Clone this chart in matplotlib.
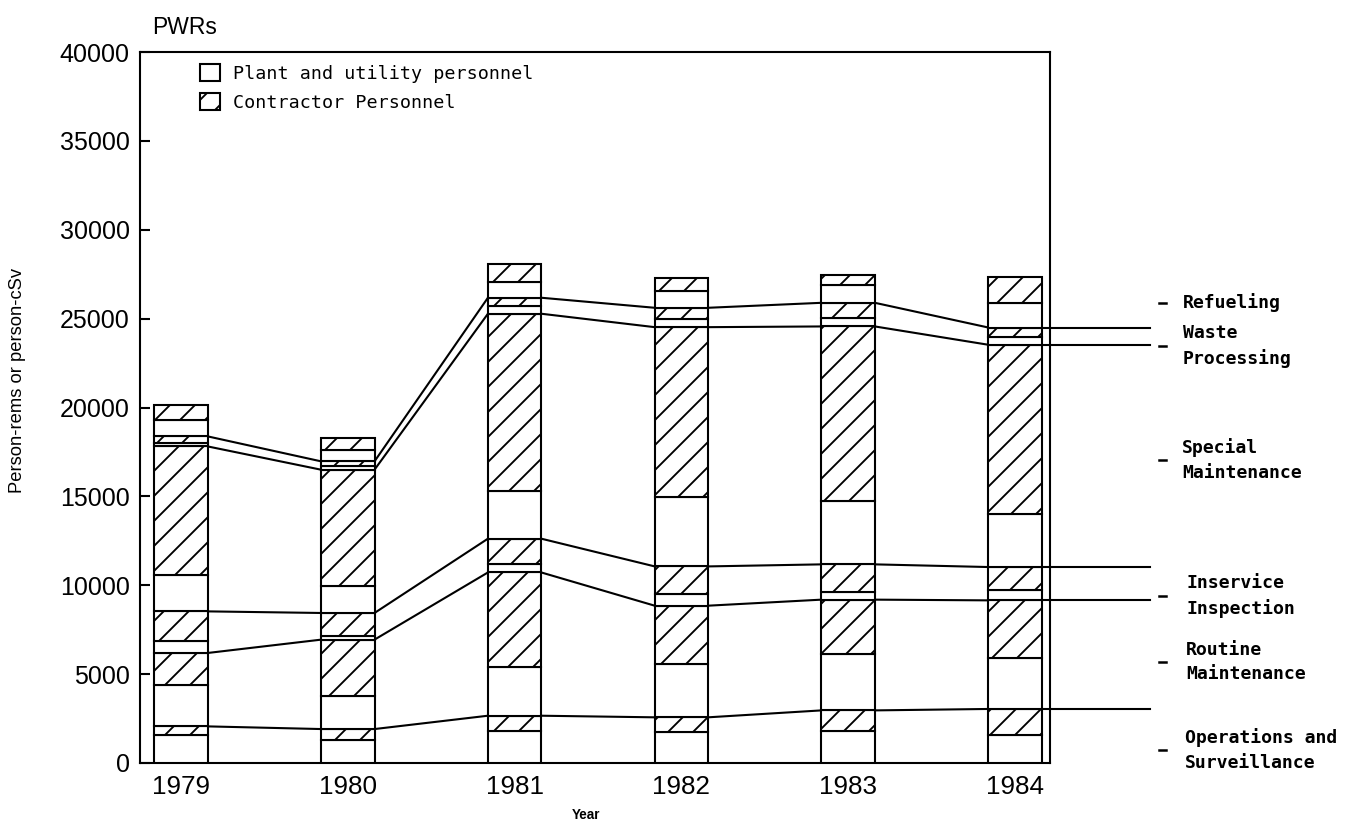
import numpy as np
import matplotlib.pyplot as plt
from matplotlib.patches import Patch
from matplotlib.lines import Line2D

years = ['1979', '1980', '1981', '1982', '1983', '1984']

categories = ['Operations and\nSurveillance', 'Routine\nMaintenance', 'Inservice\nInspection',
              'Special\nMaintenance', 'Waste\nProcessing', 'Refueling']

# person-rems per year, plant/utility vs contractor, bottom category first
ops_plant = [1590, 1310, 1780, 1725, 1800, 1590]
ops_contr = [470, 600, 880, 845, 1160, 1450]
routine_plant = [2310, 1840, 2740, 3020, 3150, 2860]
routine_contr = [1820, 3190, 5320, 3260, 3080, 3250]
inservice_plant = [650, 190, 470, 675, 430, 600]
inservice_contr = [1690, 1310, 1430, 1535, 1555, 1275]
special_plant = [2060, 1500, 2680, 3920, 3545, 3005]
special_contr = [7220, 6560, 9975, 9540, 9840, 9500]
waste_plant = [190, 190, 425, 470, 470, 410]
waste_contr = [375, 280, 475, 620, 860, 560]
refuel_plant = [935, 655, 885, 940, 980, 1375]
refuel_contr = [810, 655, 1040, 710, 600, 1445]

plant = [ops_plant, routine_plant, inservice_plant, special_plant, waste_plant, refuel_plant]
contr = [ops_contr, routine_contr, inservice_contr, special_contr, waste_contr, refuel_contr]

plt.rcParams['hatch.linewidth'] = 0.9

fig = plt.figure(figsize=(1355 / 150, 827 / 150), dpi=150)
ax = fig.add_axes([140 / 1355, 1 - 763 / 827, 910 / 1355, 711 / 827])

x = np.arange(len(years))
width = 0.32
bottom = np.zeros(len(years))
tops = []
for p, c in zip(plant, contr):
    ax.bar(x, p, width, bottom=bottom, color='white', edgecolor='black', linewidth=1.0, zorder=3)
    bottom = bottom + np.array(p)
    ax.bar(x, c, width, bottom=bottom, color='white', edgecolor='black', linewidth=1.0,
           hatch='//', zorder=3)
    bottom = bottom + np.array(c)
    tops.append(bottom.copy())

# lines joining the top of each category between bars, then out past the frame
for t in tops[:-1]:
    for i in range(len(years) - 1):
        ax.plot([x[i] + width / 2, x[i + 1] - width / 2], [t[i], t[i + 1]],
                color='black', linewidth=1.0, zorder=2)
    ax.plot([x[-1] + width / 2, x[-1] + 0.81], [t[-1], t[-1]], color='black',
            linewidth=1.0, zorder=2, clip_on=False)

ax.set_xlim(-0.246, 5.21)
ax.set_ylim(0, 40000)
ax.set_yticks(np.arange(0, 40001, 5000))
ax.set_xticks(x)
ax.set_xticklabels(years, family='Liberation Sans', fontsize=12.5)
for lab in ax.get_yticklabels():
    lab.set_family('Liberation Sans')
    lab.set_fontsize(12)
ax.tick_params(axis='y', direction='in', length=5, width=1.0, pad=5)
ax.tick_params(axis='x', length=0, pad=6)
for s in ax.spines.values():
    s.set_linewidth(1.0)

handles = [Patch(facecolor='white', edgecolor='black', linewidth=1.0),
           Patch(facecolor='white', edgecolor='black', linewidth=1.0, hatch='//')]
ax.legend(handles, ['Plant and utility personnel', 'Contractor Personnel'],
          loc='upper left', bbox_to_anchor=(0.066, 0.983), frameon=False,
          borderpad=0, borderaxespad=0, handlelength=1.07, handleheight=1.07,
          handletextpad=0.7, labelspacing=0.56,
          prop={'family': 'DejaVu Sans Mono', 'size': 8.8})

fig.text(152 / 1355, 1 - 27 / 827, 'PWRs', family='Liberation Sans', fontsize=11,
         ha='left', va='center')
fig.text(18 / 1355, 1 - 380 / 827, 'Person-rems or person-cSv', family='Liberation Sans',
         fontsize=8.8, rotation=90, ha='center', va='center')
fig.text(586 / 1355, 1 - 815 / 827, 'Year', family='Liberation Sans', fontsize=6.5,
         fontweight='bold', ha='center', va='center')

# labels on the right, one per category
label_y = [750, 662, 596, 460, 346, 303]
label_x = [1185, 1186, 1187, 1182, 1183, 1183]
for name, ly, lx in zip(categories, label_y, label_x):
    fig.add_artist(Line2D([1159 / 1355, 1166 / 1355], [1 - ly / 827, 1 - ly / 827],
                          color='black', linewidth=1.2))
    fig.text(lx / 1355, 1 - ly / 827, name, family='DejaVu Sans Mono', fontsize=8.7,
             fontweight='bold', ha='left', va='center', linespacing=1.45)

fig.savefig('out.png', dpi=150)
